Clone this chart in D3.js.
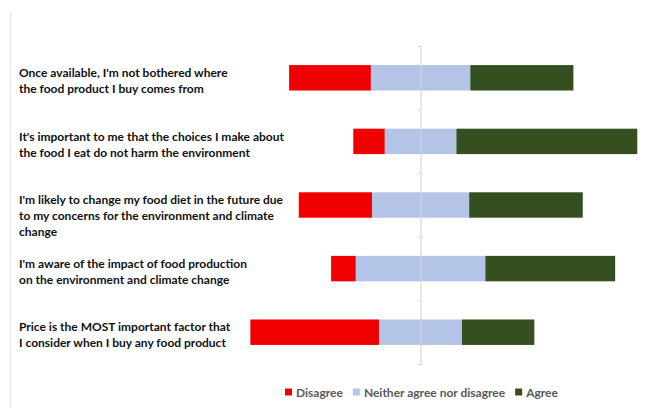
<!DOCTYPE html>
<html>
<head>
<meta charset="utf-8">
<script src="https://cdn.jsdelivr.net/npm/d3@7"></script>
<style>
  html, body { margin: 0; padding: 0; background: #fff; }
  svg { display: block; }
  .label { font-family: Lato, "Liberation Sans", sans-serif; font-weight: 700; font-size: 12px; fill: #111; }
  .legend text { font-family: Lato, "Liberation Sans", sans-serif; font-weight: 700; font-size: 12px; fill: #595959; }
</style>
</head>
<body>
<svg id="chart" width="660" height="408"></svg>
<script>
// statements, top to bottom, already wrapped the way the original shows them
const statements = [
  ["Once available, I'm not bothered where", "the food product I buy comes from"],
  ["It's important to me that the choices I make about", "the food I eat do not harm the environment"],
  ["I'm likely to change my food diet in the future due", "to my concerns for the environment and climate", "change"],
  ["I'm aware of the impact of food production", "on the environment and climate change"],
  ["Price is the MOST important factor that", "I consider when I buy any food product"],
];

const seriesNames = ["Disagree", "Neither agree nor disagree", "Agree"];
const disagree = [28.8, 11.1, 25.8, 8.7, 45.4];
const neither = [35.0, 25.2, 34.2, 45.6, 29.1];
const agree = [36.3, 63.7, 40.0, 45.7, 25.5];
const colors = ["#f00000", "#b4c4e6", "#364f21"];

const svg = d3.select("#chart");

const x = d3.scaleLinear().domain([-60, 80]).range([250.2, 647.8]);
const y = d3.scaleBand()
  .domain(d3.range(statements.length))
  .range([46, 364])
  .paddingInner(0.6)
  .paddingOuter(0.3);

// faint chart-area edge on the left
svg.append("line")
  .attr("x1", 10.5).attr("x2", 10.5)
  .attr("y1", 13).attr("y2", 408)
  .attr("stroke", "#e4e4e4").attr("stroke-width", 1);

// build segments: neutral part centred on zero
const rows = statements.map((s, i) => {
  const start = -(disagree[i] + neither[i] / 2);
  const vals = [disagree[i], neither[i], agree[i]];
  let acc = start;
  return vals.map((v, k) => {
    const seg = { row: i, k, x0: acc, x1: acc + v };
    acc += v;
    return seg;
  });
});

svg.append("g")
  .selectAll("g")
  .data(rows)
  .join("g")
  .selectAll("rect")
  .data((d) => d)
  .join("rect")
  .attr("x", (d) => x(d.x0))
  .attr("width", (d) => x(d.x1) - x(d.x0))
  .attr("y", (d) => y(d.row))
  .attr("height", y.bandwidth())
  .attr("fill", (d) => colors[d.k]);

// category axis at zero, ticks between categories
const tickScale = d3.scaleLinear().domain([0, statements.length]).range(y.range());
const axis = svg.append("g")
  .attr("transform", `translate(${x(0)},0)`)
  .call(d3.axisLeft(tickScale).ticks(statements.length).tickSize(3).tickFormat(""));
axis.select(".domain").attr("stroke", "#d6d6d6").attr("stroke-width", 1.2);
axis.selectAll(".tick line").attr("stroke", "#d6d6d6");

// statement labels
const labelG = svg.append("g");
statements.forEach((lines, i) => {
  const t = labelG.append("text")
    .attr("class", "label")
    .attr("x", 19)
    .attr("y", y(i) + 7)
    .attr("dominant-baseline", "central");
  lines.forEach((line, j) => {
    t.append("tspan").attr("x", 19).attr("dy", j === 0 ? 0 : 16).text(line);
  });
});

// legend
const legend = svg.append("g").attr("class", "legend").attr("transform", "translate(285,392)");
let lx = 0;
seriesNames.forEach((name, k) => {
  const g = legend.append("g").attr("transform", `translate(${lx},0)`);
  g.append("rect").attr("x", 0).attr("y", -3.5).attr("width", 7).attr("height", 7).attr("fill", colors[k]);
  const txt = g.append("text").attr("x", 11).attr("dominant-baseline", "central").text(name);
  lx += 11 + txt.node().getComputedTextLength() + 10;
});
</script>
</body>
</html>
